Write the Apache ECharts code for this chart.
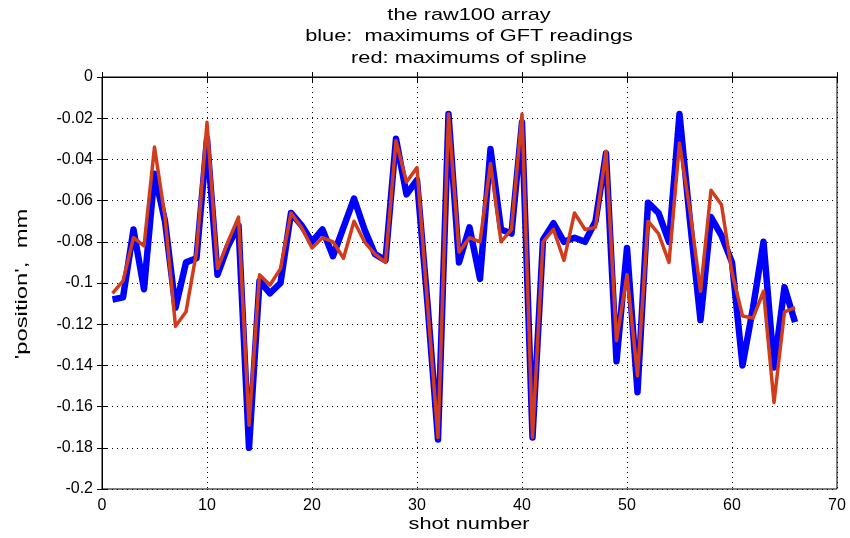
<!DOCTYPE html>
<html>
<head>
<meta charset="utf-8">
<script src="https://cdn.jsdelivr.net/npm/echarts@6/dist/echarts.min.js"></script>
<style>html,body{margin:0;padding:0;background:#fff}#chart{width:850px;height:538px}</style>
</head>
<body>
<div id="chart"></div>
<script>
const shots = [1,2,3,4,5,6,7,8,9,10,11,12,13,14,15,16,17,18,19,20,21,22,23,24,25,26,27,28,29,30,31,32,33,34,35,36,37,38,39,40,41,42,43,44,45,46,47,48,49,50,51,52,53,54,55,56,57,58,59,60,61,62,63,64,65,66];
const gftMax = [-0.108,-0.107,-0.074,-0.103,-0.047,-0.070,-0.112,-0.090,-0.088,-0.030,
  -0.096,-0.082,-0.072,-0.180,-0.099,-0.105,-0.100,-0.066,-0.072,-0.080,
  -0.074,-0.087,-0.073,-0.059,-0.074,-0.086,-0.089,-0.030,-0.057,-0.050,
  -0.110,-0.176,-0.018,-0.090,-0.073,-0.098,-0.035,-0.074,-0.076,-0.022,
  -0.175,-0.079,-0.071,-0.080,-0.078,-0.080,-0.070,-0.037,-0.138,-0.083,
  -0.153,-0.061,-0.066,-0.080,-0.018,-0.070,-0.118,-0.068,-0.077,-0.090,
  -0.140,-0.112,-0.080,-0.141,-0.102,-0.119];
const splineMax = [-0.105,-0.099,-0.078,-0.082,-0.034,-0.068,-0.121,-0.114,-0.085,-0.022,
  -0.093,-0.080,-0.068,-0.169,-0.096,-0.101,-0.093,-0.066,-0.073,-0.083,
  -0.078,-0.080,-0.088,-0.070,-0.080,-0.086,-0.090,-0.031,-0.051,-0.044,
  -0.110,-0.175,-0.018,-0.085,-0.078,-0.080,-0.042,-0.080,-0.074,-0.018,
  -0.175,-0.080,-0.074,-0.089,-0.066,-0.074,-0.073,-0.036,-0.128,-0.096,
  -0.145,-0.070,-0.076,-0.090,-0.032,-0.065,-0.104,-0.055,-0.062,-0.095,
  -0.116,-0.117,-0.104,-0.158,-0.114,-0.112];
const titleLines = ['the raw100 array', 'blue:  maximums of GFT readings', 'red: maximums of spline'];
const xName = 'shot number';
const yName = "'position',  mm";

const FONT = 'Liberation Sans';
const chart = echarts.init(document.getElementById('chart'), null, {renderer: 'canvas'});
const grid = {left: 102, right: 13, top: 77, bottom: 49};
const dotted = {show: true, lineStyle: {color: '#000', width: 1, type: [1, 4]}};
const txt = (text, x, y, opts) => Object.assign({
  type: 'text', x: x, y: y, scaleX: 1.28, z: 10,
  style: {text: text, fill: '#000', font: '17px "' + FONT + '"',
    textAlign: 'center', textVerticalAlign: 'middle', verticalAlign: 'middle'}
}, opts || {});
const titleY = [15, 36.5, 58];
chart.setOption({
  animation: false,
  backgroundColor: '#fff',
  graphic: titleLines.map((t, i) => txt(t, 469, titleY[i])).concat([
    txt(xName, 469, 524),
    txt(yName, 22, 284, {rotation: Math.PI / 2, scaleX: 1.4})
  ]),
  grid: Object.assign({show: true, borderColor: '#000', borderWidth: 1, backgroundColor: '#fff'}, grid),
  xAxis: [{
    type: 'value', min: 0, max: 70, interval: 10,
    axisLine: {show: true, lineStyle: {color: '#000'}},
    axisTick: {show: true, inside: true, length: 5, lineStyle: {color: '#000'}},
    axisLabel: {fontFamily: FONT, fontSize: 16, color: '#000', margin: 9},
    splitLine: dotted
  }, {
    type: 'value', min: 0, max: 70, interval: 10, position: 'top',
    axisLine: {show: true, lineStyle: {color: '#000'}},
    axisTick: {show: true, inside: true, length: 5, lineStyle: {color: '#000'}},
    axisLabel: {show: false}, splitLine: {show: false}
  }],
  yAxis: [{
    type: 'value', min: -0.2, max: 0, interval: 0.02,
    axisLine: {show: true, lineStyle: {color: '#000'}},
    axisTick: {show: true, inside: true, length: 5, lineStyle: {color: '#000'}},
    axisLabel: {fontFamily: FONT, fontSize: 16, color: '#000', margin: 9,
      formatter: v => String(Math.round(v * 1000) / 1000)},
    splitLine: dotted
  }, {
    type: 'value', min: -0.2, max: 0, interval: 0.02, position: 'right',
    axisLine: {show: true, lineStyle: {color: '#000'}},
    axisTick: {show: true, inside: true, length: 5, lineStyle: {color: '#000'}},
    axisLabel: {show: false}, splitLine: {show: false}
  }],
  series: [{
    name: 'GFT', type: 'line', showSymbol: false, symbol: 'none',
    data: shots.map((s, i) => [s, gftMax[i]]),
    lineStyle: {color: '#0000ff', width: 6.5, join: 'round'}, z: 2
  }, {
    name: 'spline', type: 'line', showSymbol: false, symbol: 'none',
    data: shots.map((s, i) => [s, splineMax[i]]),
    lineStyle: {color: '#d13c1c', width: 3.5, join: 'round'}, z: 3
  }]
});
</script>
</body>
</html>
